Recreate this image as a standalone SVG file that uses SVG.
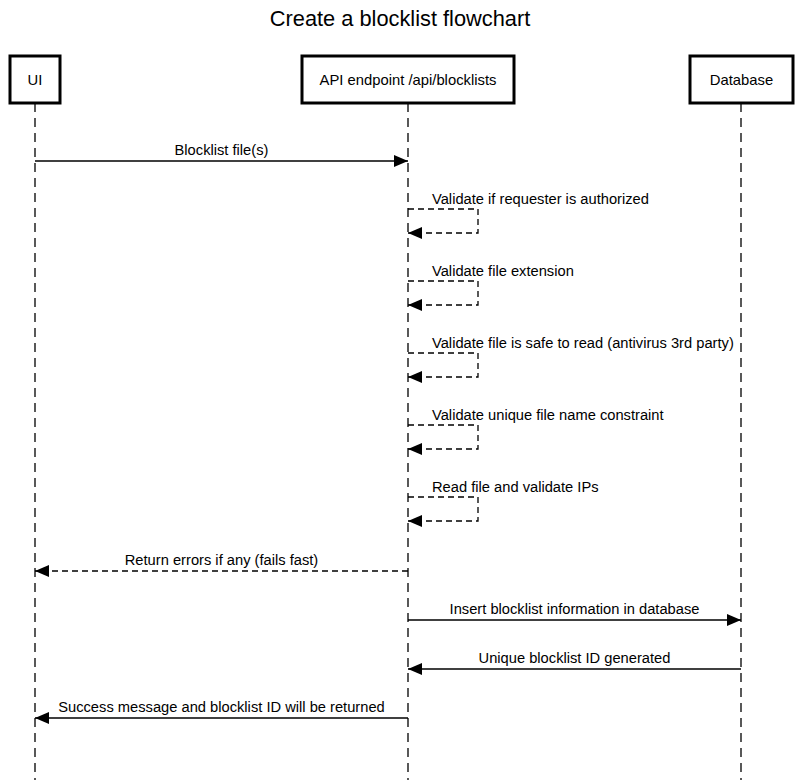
<svg xmlns="http://www.w3.org/2000/svg" width="800" height="780" viewBox="0 0 800 780">
<style>
text{font-family:"Liberation Sans",Arial,sans-serif;fill:#000}
.title{font-size:21.8px;text-anchor:middle}
.actor rect{fill:#fff;stroke:#000;stroke-width:3}
.actor text{font-size:14.8px;text-anchor:middle}
.life{stroke:#000;stroke-width:1.3;stroke-dasharray:9,6;fill:none}
.msg{stroke:#000;stroke-width:1.3;fill:none;marker-end:url(#ah)}
.dash{stroke-dasharray:6,4}
.lbl{font-size:14.7px;text-anchor:middle}
.lbls{font-size:14.7px;text-anchor:start}
</style>
<defs>
<marker id="ah" viewBox="0 0 14 12" refX="14" refY="6" markerWidth="14" markerHeight="12" markerUnits="userSpaceOnUse" orient="auto">
<path d="M0,0 L14,6 L0,12 Z" fill="#000"/>
</marker>
</defs>
<rect width="800" height="780" fill="#fff"/>
<text class="title" x="400" y="26">Create a blocklist flowchart</text>
<g id="lifelines">
<line class="life" x1="35" y1="103" x2="35" y2="780"/>
<line class="life" x1="408" y1="103" x2="408" y2="780"/>
<line class="life" x1="741" y1="103" x2="741" y2="780"/>
</g>
<g id="actor-ui" class="actor"><rect x="10" y="56" width="50" height="47"/><text x="35" y="85">UI</text></g>
<g id="actor-api" class="actor"><rect x="302" y="56" width="212" height="47"/><text x="408" y="85">API endpoint /api/blocklists</text></g>
<g id="actor-db" class="actor"><rect x="690" y="56" width="103" height="47"/><text x="741.5" y="85">Database</text></g>
<g id="connectors">
<line class="msg" x1="35" y1="161" x2="408" y2="161"/>
<path class="msg dash" d="M408,209 H478 V233 H408"/>
<path class="msg dash" d="M408,281 H478 V305 H408"/>
<path class="msg dash" d="M408,353 H478 V377 H408"/>
<path class="msg dash" d="M408,425 H478 V449 H408"/>
<path class="msg dash" d="M408,497 H478 V521 H408"/>
<line class="msg dash" x1="408" y1="571" x2="35" y2="571"/>
<line class="msg" x1="408" y1="620" x2="741" y2="620"/>
<line class="msg" x1="741" y1="669" x2="408" y2="669"/>
<line class="msg" x1="408" y1="718" x2="35" y2="718"/>
</g>
<g id="labels">
<text class="lbl" x="221.5" y="155">Blocklist file(s)</text>
<text class="lbls" x="432" y="204">Validate if requester is authorized</text>
<text class="lbls" x="432" y="276">Validate file extension</text>
<text class="lbls" x="432" y="348">Validate file is safe to read (antivirus 3rd party)</text>
<text class="lbls" x="432" y="420">Validate unique file name constraint</text>
<text class="lbls" x="432" y="492">Read file and validate IPs</text>
<text class="lbl" x="221.5" y="565">Return errors if any (fails fast)</text>
<text class="lbl" x="574.5" y="614">Insert blocklist information in database</text>
<text class="lbl" x="574.5" y="663">Unique blocklist ID generated</text>
<text class="lbl" x="221.5" y="712">Success message and blocklist ID will be returned</text>
</g>
</svg>
